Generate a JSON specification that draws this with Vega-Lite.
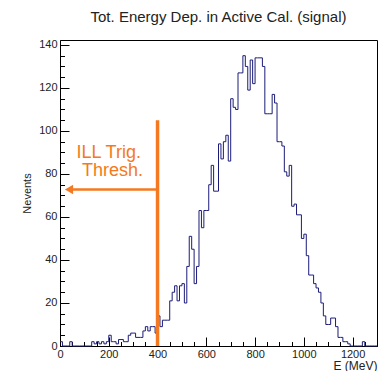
{
  "$schema": "https://vega.github.io/schema/vega-lite/v6.json",
  "width": 317,
  "height": 306,
  "autosize": "none",
  "padding": {"left": 60, "top": 40, "right": 9, "bottom": 25},
  "title": {"text": "Tot. Energy Dep. in Active Cal. (signal)", "font": "Liberation Sans", "fontSize": 15, "fontWeight": "normal", "color": "#222222", "offset": 14},
  "config": {
    "view": {"stroke": "#000000", "strokeWidth": 1},
    "axis": {"labelFont": "Liberation Sans", "titleFont": "Liberation Sans", "labelColor": "#222222", "titleColor": "#222222", "domainColor": "#000000", "tickColor": "#000000", "grid": false, "titleFontWeight": "normal"}
  },
  "datasets": {
    "hist": [
      {"e":0,"n":2},{"e":10,"n":0},{"e":20,"n":0},{"e":30,"n":0},{"e":40,"n":2},{"e":50,"n":0},{"e":60,"n":0},{"e":70,"n":0},{"e":80,"n":0},{"e":90,"n":0},
      {"e":100,"n":0},{"e":110,"n":0},{"e":120,"n":0},{"e":130,"n":2},{"e":140,"n":1},{"e":150,"n":2},{"e":160,"n":1},{"e":170,"n":2},{"e":180,"n":1},{"e":190,"n":2},
      {"e":200,"n":5},{"e":210,"n":2},{"e":220,"n":2},{"e":230,"n":1},{"e":240,"n":3},{"e":250,"n":3},{"e":260,"n":2},{"e":270,"n":2},{"e":280,"n":5},{"e":290,"n":6},
      {"e":300,"n":6},{"e":310,"n":4},{"e":320,"n":4},{"e":330,"n":4},{"e":340,"n":7},{"e":350,"n":9},{"e":360,"n":7},{"e":370,"n":9},{"e":380,"n":9},{"e":390,"n":6},
      {"e":400,"n":14},{"e":410,"n":9},{"e":420,"n":12},{"e":430,"n":12},{"e":440,"n":12},{"e":450,"n":21},{"e":460,"n":25},{"e":470,"n":28},{"e":480,"n":21},{"e":490,"n":28},
      {"e":500,"n":29},{"e":510,"n":20},{"e":520,"n":37},{"e":530,"n":51},{"e":540,"n":45},{"e":550,"n":29},{"e":560,"n":37},{"e":570,"n":63},{"e":580,"n":55},{"e":590,"n":63},
      {"e":600,"n":63},{"e":610,"n":75},{"e":620,"n":84},{"e":630,"n":72},{"e":640,"n":72},{"e":650,"n":94},{"e":660,"n":87},{"e":670,"n":95},{"e":680,"n":98},{"e":690,"n":86},
      {"e":700,"n":115},{"e":710,"n":111},{"e":720,"n":110},{"e":730,"n":127},{"e":740,"n":127},{"e":750,"n":135},{"e":760,"n":130},{"e":770,"n":119},{"e":780,"n":133},{"e":790,"n":122},
      {"e":800,"n":134},{"e":810,"n":134},{"e":820,"n":134},{"e":830,"n":130},{"e":840,"n":108},{"e":850,"n":108},{"e":860,"n":108},{"e":870,"n":117},{"e":880,"n":113},{"e":890,"n":95},
      {"e":900,"n":95},{"e":910,"n":93},{"e":920,"n":81},{"e":930,"n":79},{"e":940,"n":84},{"e":950,"n":65},{"e":960,"n":66},{"e":970,"n":61},{"e":980,"n":61},{"e":990,"n":50},
      {"e":1000,"n":52},{"e":1010,"n":42},{"e":1020,"n":33},{"e":1030,"n":33},{"e":1040,"n":29},{"e":1050,"n":27},{"e":1060,"n":25},{"e":1070,"n":20},{"e":1080,"n":14},{"e":1090,"n":10},
      {"e":1100,"n":10},{"e":1110,"n":13},{"e":1120,"n":13},{"e":1130,"n":9},{"e":1140,"n":4},{"e":1150,"n":4},{"e":1160,"n":2},{"e":1170,"n":2},{"e":1180,"n":1},{"e":1190,"n":0},
      {"e":1200,"n":0},{"e":1210,"n":0},{"e":1220,"n":0},{"e":1230,"n":0},{"e":1240,"n":2},{"e":1250,"n":0},{"e":1260,"n":0},{"e":1270,"n":0},{"e":1280,"n":0},{"e":1290,"n":0},{"e":1300,"n":0}
    ],
    "thresh": [{"e": 400, "n0": 0, "n1": 105}],
    "arrow": [{"e": 400, "e2": 37, "n": 72.8}],
    "head": [{"e": 37, "n": 72.8}],
    "labels": [{"e": 200, "n": 89.7, "label": "ILL Trig."}, {"e": 215, "n": 81.2, "label": "Thresh."}]
  },
  "layer": [
    {
      "data": {"name": "hist"},
      "mark": {"type": "line", "interpolate": "step-after", "color": "#1c1c78", "strokeWidth": 1},
      "encoding": {
        "x": {"field": "e", "type": "quantitative", "scale": {"domain": [0, 1300], "nice": false, "zero": false},
          "axis": {"orient": "bottom", "values": [0,200,400,600,800,1000,1200], "format": "d", "tickSize": -9, "labelFontSize": 11, "labelPadding": 11, "title": "E (MeV)", "titleAnchor": "end", "titleFontSize": 12, "titlePadding": 1, "labelFlush": false}},
        "y": {"field": "n", "type": "quantitative", "scale": {"domain": [0, 142.3], "nice": false},
          "axis": {"orient": "left", "values": [0,20,40,60,80,100,120,140], "format": "d", "tickSize": -9, "labelFontSize": 11, "labelPadding": 12, "title": "Nevents", "titleFontSize": 11, "titlePadding": 6}}
      }
    },
    {
      "data": {"name": "thresh"},
      "mark": {"type": "rule", "color": "#f47920", "strokeWidth": 3.5},
      "encoding": {
        "x": {"field": "e", "type": "quantitative",
          "axis": {"orient": "bottom", "values": [50,100,150,250,300,350,450,500,550,650,700,750,850,900,950,1050,1100,1150,1250,1300], "tickSize": -4.5, "labels": false, "domain": false, "title": null}},
        "y": {"field": "n0", "type": "quantitative",
          "axis": {"orient": "left", "values": [5,10,15,25,30,35,45,50,55,65,70,75,85,90,95,105,110,115,125,130,135], "tickSize": -4.5, "labels": false, "domain": false, "title": null}},
        "y2": {"field": "n1"}
      }
    },
    {
      "data": {"name": "arrow"},
      "mark": {"type": "rule", "color": "#f47920", "strokeWidth": 2.5},
      "encoding": {
        "x": {"field": "e", "type": "quantitative", "axis": null},
        "x2": {"field": "e2"},
        "y": {"field": "n", "type": "quantitative", "axis": null}
      }
    },
    {
      "data": {"name": "head"},
      "mark": {"type": "point", "shape": "triangle-left", "filled": true, "color": "#f47920", "size": 90, "opacity": 1},
      "encoding": {
        "x": {"field": "e", "type": "quantitative", "axis": null},
        "y": {"field": "n", "type": "quantitative", "axis": null}
      }
    },
    {
      "data": {"name": "labels"},
      "mark": {"type": "text", "color": "#f47920", "font": "Liberation Sans", "fontSize": 18, "align": "center", "baseline": "middle"},
      "encoding": {
        "x": {"field": "e", "type": "quantitative", "axis": null},
        "y": {"field": "n", "type": "quantitative", "axis": null},
        "text": {"field": "label"}
      }
    }
  ],
  "resolve": {"axis": {"x": "independent", "y": "independent"}}
}
